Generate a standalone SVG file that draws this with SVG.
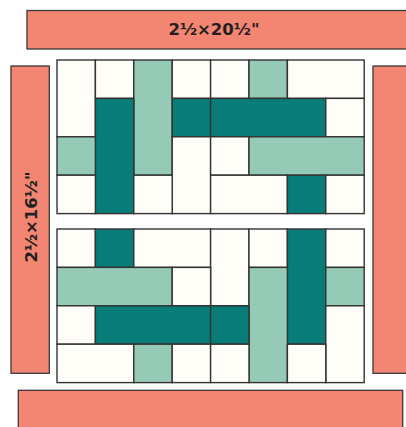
<svg xmlns="http://www.w3.org/2000/svg" width="406" height="427" viewBox="0 0 406 427">
<style>
.bar{fill:#F38573;stroke:#3a3a3a;stroke-width:1.3}
.c{fill:#FFFDF7}
.t{fill:#077C79}
.g{fill:#95CBB6}
.blk rect{stroke:#333;stroke-width:1.4}
.lbl{font-family:"DejaVu Sans","Liberation Sans",Arial,sans-serif;font-weight:bold;font-size:16.5px;fill:#231f20;text-anchor:middle}
</style>
<rect width="406" height="427" fill="#ffffff"/>
<g id="top-strip">
<rect class="bar" x="27" y="10.5" width="385" height="38.5"/>
<text class="lbl" x="214" y="35">2½×20½"</text>
</g>
<g id="left-strip">
<rect class="bar" x="11" y="66" width="38.3" height="307.3"/>
<text class="lbl" transform="translate(37,217) rotate(-90)" x="0" y="0">2½×16½"</text>
</g>
<g id="right-strip">
<rect class="bar" x="373" y="66" width="40" height="307.3"/>
</g>
<g id="bottom-strip">
<rect class="bar" x="18.3" y="390.3" width="384.4" height="45"/>
</g>
<g id="block-top" class="blk">
<rect class="c" x="57" y="60" width="38.4" height="76.8"/>
<rect class="c" x="95.4" y="60" width="38.4" height="38.4"/>
<rect class="g" x="133.8" y="60" width="38.4" height="115.2"/>
<rect class="c" x="172.2" y="60" width="38.4" height="38.4"/>
<rect class="c" x="210.6" y="60" width="38.4" height="38.4"/>
<rect class="g" x="249" y="60" width="38.4" height="38.4"/>
<rect class="c" x="287.4" y="60" width="76.8" height="38.4"/>
<rect class="t" x="95.4" y="98.4" width="38.4" height="115.2"/>
<rect class="t" x="172.2" y="98.4" width="38.4" height="38.4"/>
<rect class="t" x="210.6" y="98.4" width="115.2" height="38.4"/>
<rect class="c" x="325.8" y="98.4" width="38.4" height="38.4"/>
<rect class="g" x="57" y="136.8" width="38.4" height="38.4"/>
<rect class="c" x="172.2" y="136.8" width="38.4" height="76.8"/>
<rect class="c" x="210.6" y="136.8" width="38.4" height="38.4"/>
<rect class="g" x="249" y="136.8" width="115.2" height="38.4"/>
<rect class="c" x="57" y="175.2" width="38.4" height="38.4"/>
<rect class="c" x="133.8" y="175.2" width="38.4" height="38.4"/>
<rect class="c" x="210.6" y="175.2" width="76.8" height="38.4"/>
<rect class="t" x="287.4" y="175.2" width="38.4" height="38.4"/>
<rect class="c" x="325.8" y="175.2" width="38.4" height="38.4"/>
</g>
<g id="block-bottom" class="blk">
<rect class="c" x="57" y="229" width="38.4" height="38.4"/>
<rect class="t" x="95.4" y="229" width="38.4" height="38.4"/>
<rect class="c" x="133.8" y="229" width="76.8" height="38.4"/>
<rect class="c" x="210.6" y="229" width="38.4" height="76.8"/>
<rect class="c" x="249" y="229" width="38.4" height="38.4"/>
<rect class="t" x="287.4" y="229" width="38.4" height="115.2"/>
<rect class="c" x="325.8" y="229" width="38.4" height="38.4"/>
<rect class="g" x="57" y="267.4" width="115.2" height="38.4"/>
<rect class="c" x="172.2" y="267.4" width="38.4" height="38.4"/>
<rect class="g" x="249" y="267.4" width="38.4" height="115.2"/>
<rect class="g" x="325.8" y="267.4" width="38.4" height="38.4"/>
<rect class="c" x="57" y="305.8" width="38.4" height="38.4"/>
<rect class="t" x="95.4" y="305.8" width="115.2" height="38.4"/>
<rect class="t" x="210.6" y="305.8" width="38.4" height="38.4"/>
<rect class="c" x="325.8" y="305.8" width="38.4" height="76.8"/>
<rect class="c" x="57" y="344.2" width="76.8" height="38.4"/>
<rect class="g" x="133.8" y="344.2" width="38.4" height="38.4"/>
<rect class="c" x="172.2" y="344.2" width="38.4" height="38.4"/>
<rect class="c" x="210.6" y="344.2" width="38.4" height="38.4"/>
<rect class="c" x="287.4" y="344.2" width="38.4" height="38.4"/>
</g>
</svg>
